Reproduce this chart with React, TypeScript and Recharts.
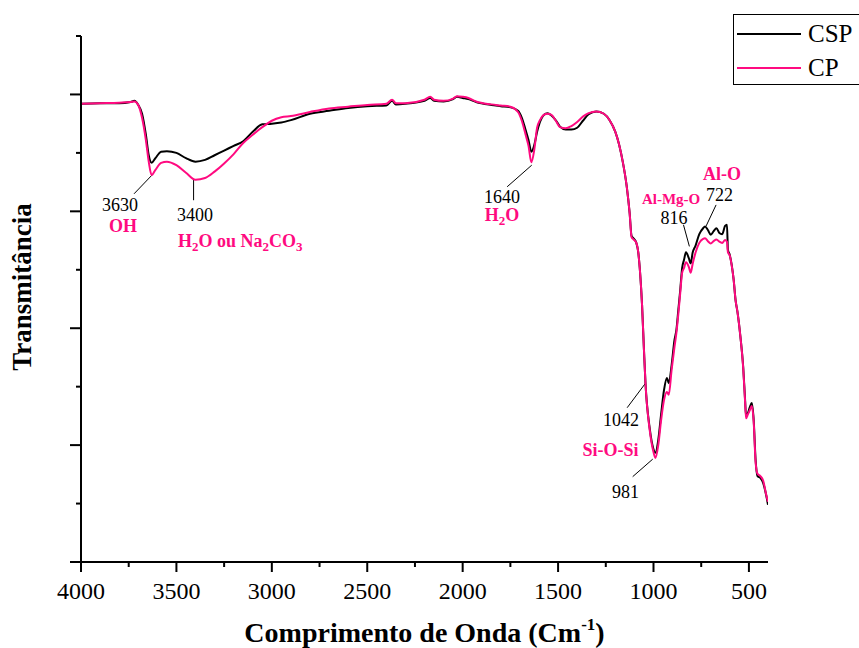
import React from 'react';
import { LineChart, Line, XAxis, YAxis, ReferenceDot, ReferenceLine, Legend, Label } from 'recharts';

const wavenumbers = [4000, 3900, 3800, 3740, 3720, 3700, 3680, 3660, 3645, 3630, 3610, 3580, 3550, 3500, 3450, 3400, 3350, 3300, 3250, 3200, 3150, 3100, 3050, 3000, 2950, 2900, 2800, 2700, 2600, 2500, 2400, 2370, 2350, 2300, 2200, 2170, 2150, 2100, 2050, 2030, 2000, 1970, 1930, 1850, 1800, 1750, 1710, 1690, 1670, 1655, 1640, 1625, 1610, 1595, 1575, 1555, 1535, 1510, 1490, 1460, 1430, 1400, 1370, 1340, 1300, 1260, 1230, 1200, 1180, 1160, 1140, 1125, 1115, 1105, 1090, 1080, 1070, 1060, 1050, 1042, 1020, 1000, 990, 975, 960, 945, 930, 920, 905, 890, 880, 870, 860, 850, 840, 830, 815, 805, 795, 780, 760, 740, 730, 715, 700, 685, 670, 655, 640, 625, 615, 610, 600, 590, 580, 570, 560, 545, 530, 520, 515, 505, 495, 485, 475, 465, 455, 440, 425, 410, 400];

const cspValues = [78.4, 78.5, 78.5, 78.7, 78.9, 78.2, 76.7, 73.1, 69.6, 68.3, 69.1, 70.2, 70.3, 70.0, 69.1, 68.5, 68.8, 69.6, 70.4, 71.2, 72.0, 73.6, 74.9, 75.0, 75.2, 75.6, 76.7, 77.2, 77.7, 78.0, 78.1, 78.9, 78.3, 78.4, 78.9, 79.4, 78.9, 78.8, 79.2, 79.6, 79.4, 79.2, 78.7, 78.2, 78.0, 77.8, 77.2, 76.0, 73.9, 72.2, 70.2, 71.3, 73.6, 75.3, 76.5, 76.8, 76.4, 75.5, 74.5, 74.0, 74.0, 74.3, 75.5, 76.6, 77.1, 76.7, 75.6, 73.6, 71.4, 68.3, 64.2, 59.7, 55.8, 55.4, 54.6, 53.0, 49.4, 44.0, 36.3, 30.6, 22.9, 19.3, 18.7, 20.9, 25.3, 29.4, 31.5, 30.6, 33.7, 38.0, 39.7, 43.1, 46.5, 50.3, 51.7, 53.0, 52.0, 51.1, 52.9, 54.1, 56.1, 57.1, 57.4, 56.8, 56.0, 56.6, 57.1, 56.3, 56.1, 57.5, 57.7, 53.4, 52.5, 50.8, 48.3, 44.8, 42.8, 38.7, 33.4, 27.7, 25.0, 25.5, 26.5, 27.2, 24.3, 17.5, 14.7, 14.4, 13.5, 11.5, 9.8];

const cpValues = [78.4, 78.5, 78.6, 78.7, 78.8, 78.2, 76.0, 72.2, 68.5, 66.2, 67.1, 68.3, 68.5, 67.9, 66.6, 65.4, 65.7, 66.8, 68.2, 69.8, 71.7, 73.1, 74.4, 75.5, 76.1, 76.3, 77.0, 77.6, 77.9, 78.2, 78.4, 79.1, 78.5, 78.5, 79.1, 79.6, 79.1, 78.9, 79.3, 79.7, 79.6, 79.4, 78.8, 78.3, 78.1, 77.9, 77.0, 75.5, 73.1, 71.2, 68.4, 70.5, 74.3, 75.6, 76.5, 76.7, 76.5, 75.4, 74.4, 74.2, 74.6, 75.3, 76.2, 76.8, 77.1, 76.7, 75.6, 73.6, 71.4, 68.3, 64.2, 59.7, 55.6, 55.2, 54.6, 53.0, 49.4, 44.0, 36.3, 30.6, 22.6, 18.8, 17.8, 20.0, 24.3, 27.7, 29.1, 28.6, 32.9, 36.8, 39.2, 42.4, 46.0, 49.5, 50.3, 51.3, 50.5, 49.5, 51.0, 52.9, 54.6, 55.3, 55.4, 54.9, 54.5, 54.9, 55.2, 54.8, 54.6, 55.1, 54.8, 53.0, 52.4, 50.7, 48.3, 44.8, 42.8, 38.7, 33.2, 27.4, 24.6, 25.3, 26.0, 26.7, 24.0, 17.1, 15.1, 14.7, 13.9, 11.6, 10.3];

const xTicks = [4000, 3750, 3500, 3250, 3000, 2750, 2500, 2250, 2000, 1750, 1500, 1250, 1000, 750, 500];
const yTicks = [0, 10, 20, 30, 40, 50, 60, 70, 80, 90];

const seriesNames = ['CSP', 'CP'];

const data = wavenumbers.map((w, i) => ({ w, CSP: cspValues[i], CP: cpValues[i] }));

const BLACK = '#000000';
const PINK = '#ff0a80';
const FONT = '"Liberation Serif", "Times New Roman", serif';

type Ann = { w: number; v: number; text: React.ReactNode; color: string; bold?: boolean; size?: number; anchor?: 'start' | 'middle' | 'end' };

const annotations: Ann[] = [
  { w: 3796, v: 61.1, text: '3630', color: BLACK },
  { w: 3780, v: 57.6, text: 'OH', color: PINK, bold: true },
  { w: 3402, v: 59.4, text: '3400', color: BLACK },
  {
    w: 3492, v: 55.0, color: PINK, bold: true, anchor: 'start',
    text: (
      <>
        <tspan>H</tspan><tspan fontSize={13} dy={4}>2</tspan><tspan dy={-4}>O ou Na</tspan><tspan fontSize={13} dy={4}>2</tspan><tspan dy={-4}>CO</tspan><tspan fontSize={13} dy={4}>3</tspan>
      </>
    ),
  },
  { w: 1794, v: 62.5, text: '1640', color: BLACK },
  {
    w: 1794, v: 59.4, color: PINK, bold: true,
    text: (
      <>
        <tspan>H</tspan><tspan fontSize={13} dy={4}>2</tspan><tspan dy={-4}>O</tspan>
      </>
    ),
  },
  { w: 641, v: 66.5, text: 'Al-O', color: PINK, bold: true },
  { w: 654, v: 62.9, text: '722', color: BLACK },
  { w: 908, v: 62.1, text: 'Al-Mg-O', color: PINK, bold: true, size: 15 },
  { w: 892, v: 58.9, text: '816', color: BLACK },
  { w: 1076, v: 24.3, text: '1042', color: BLACK, anchor: 'end' },
  { w: 1078, v: 19.2, text: 'Si-O-Si', color: PINK, bold: true, anchor: 'end' },
  { w: 1076, v: 12.0, text: '981', color: BLACK, anchor: 'end' },
];

const leaders = [
  [{ x: 3628, y: 66.2 }, { x: 3722, y: 63.0 }],
  [{ x: 3410, y: 65.4 }, { x: 3410, y: 61.9 }],
  [{ x: 1638, y: 67.9 }, { x: 1767, y: 64.2 }],
  [{ x: 1044, y: 30.5 }, { x: 1138, y: 26.4 }],
  [{ x: 1004, y: 17.6 }, { x: 1109, y: 14.6 }],
  [{ x: 812, y: 54.0 }, { x: 843, y: 57.7 }],
  [{ x: 724, y: 57.5 }, { x: 672, y: 61.1 }],
];

const YTick = (props: any) => {
  const { x, y, payload } = props;
  const major = payload.value % 20 === 0;
  return <line x1={x} x2={x - (major ? 11 : 5)} y1={y} y2={y} stroke="#000" strokeWidth={2} />;
};

const XTick = (props: any) => {
  const { x, y, payload } = props;
  const major = payload.value % 500 === 0;
  return (
    <g>
      <line x1={x} x2={x} y1={y} y2={y + (major ? 10 : 5)} stroke="#000" strokeWidth={2} />
      {major && (
        <text x={x} y={y + 37} textAnchor="middle" fontFamily={FONT} fontSize={24} fill="#000">
          {payload.value}
        </text>
      )}
    </g>
  );
};

const LegendBox = () => (
  <div
    style={{
      width: 140,
      height: 71,
      border: '1px solid #000',
      background: '#fff',
      position: 'relative',
      fontFamily: FONT,
      fontSize: 25,
      boxSizing: 'border-box',
    }}
  >
    {seriesNames.map((name, i) => (
      <div key={name} style={{ position: 'absolute', left: 3, top: i === 0 ? 4 : 38, height: 30, display: 'flex', alignItems: 'center' }}>
        <div style={{ width: 64, height: 2, background: i === 0 ? BLACK : PINK }} />
        <span style={{ marginLeft: 7, lineHeight: '30px', color: '#000' }}>{name}</span>
      </div>
    ))}
  </div>
);

export default function App() {
  return (
    <div style={{ position: 'absolute', left: 8, top: 8, width: 851, height: 640, overflow: 'hidden' }}>
      <LineChart width={851} height={640} data={data} margin={{ top: 28, right: 91, bottom: 26, left: 13 }}>
        <XAxis
          dataKey="w"
          type="number"
          domain={[400, 4000]}
          reversed
          ticks={xTicks}
          interval={0}
          height={60}
          tickSize={0}
          tickMargin={0}
          tick={<XTick />}
          axisLine={{ stroke: '#000', strokeWidth: 2 }}
          allowDataOverflow
        >
          <Label
            content={(p: any) => {
              const vb = p.viewBox;
              return (
                <text x={vb.x + vb.width / 2} y={vb.y + 80} textAnchor="middle" fontFamily={FONT} fontSize={28} fontWeight="bold" fill="#000">
                  Comprimento de Onda (Cm<tspan fontSize={17} dy={-12}>-1</tspan><tspan dy={12}>)</tspan>
                </text>
              );
            }}
          />
        </XAxis>
        <YAxis
          type="number"
          domain={[0, 90]}
          ticks={yTicks}
          interval={0}
          width={60}
          tickSize={0}
          tickMargin={0}
          tick={<YTick />}
          axisLine={{ stroke: '#000', strokeWidth: 2 }}
          allowDataOverflow
        >
          <Label
            content={() => {
              const cy = 279;
              const cx = 14;
              return (
                <text x={cx} y={cy} transform={`rotate(-90 ${cx} ${cy})`} textAnchor="middle" dominantBaseline="central" fontFamily={FONT} fontSize={27} fontWeight="bold" fill="#000">
                  Transmitância
                </text>
              );
            }}
          />
        </YAxis>
        <Legend
          layout="vertical"
          align="center"
          verticalAlign="middle"
          wrapperStyle={{ left: 725, top: 6, width: 140, height: 71 }}
          content={() => <LegendBox />}
        />
        {leaders.map((seg, i) => (
          <ReferenceLine key={'l' + i} segment={seg} stroke="#000" strokeWidth={1} />
        ))}
        <Line type="monotone" dataKey="CSP" stroke={BLACK} strokeWidth={2} dot={false} isAnimationActive={false} />
        <Line type="monotone" dataKey="CP" stroke={PINK} strokeWidth={2} dot={false} isAnimationActive={false} />
        {annotations.map((a, i) => (
          <ReferenceDot
            key={'a' + i}
            x={a.w}
            y={a.v}
            r={0}
            fill="none"
            stroke="none"
            label={(p: any) => {
              const vb = p.viewBox || {};
              const x = (vb.x || 0) + (vb.width || 0) / 2;
              const y = (vb.y || 0) + (vb.height || 0) / 2;
              return (
                <text
                  x={x}
                  y={y}
                  dy="0.35em"
                  textAnchor={a.anchor || 'middle'}
                  fontFamily={FONT}
                  fontSize={a.size || 18}
                  fontWeight={a.bold ? 'bold' : 'normal'}
                  fill={a.color}
                >
                  {a.text}
                </text>
              );
            }}
          />
        ))}
      </LineChart>
    </div>
  );
}
